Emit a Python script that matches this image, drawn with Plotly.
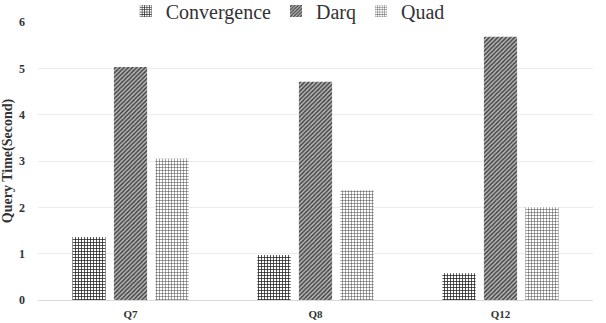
import plotly.graph_objects as go

categories = ["Q7", "Q8", "Q12"]
convergence = [1.36, 0.97, 0.58]
darq = [5.03, 4.71, 5.68]
quad = [3.05, 2.37, 2.0]
y_ticks = [0, 1, 2, 3, 4, 5, 6]

fig = go.Figure()
fig.add_trace(go.Bar(
    name="Convergence", x=categories, y=convergence,
    marker=dict(color="white", line=dict(width=0),
                pattern=dict(shape="+", size=3, solidity=0.45,
                             fgcolor="#222222", bgcolor="white", fillmode="replace")),
))
fig.add_trace(go.Bar(
    name="Darq", x=categories, y=darq,
    marker=dict(color="white", line=dict(width=0),
                pattern=dict(shape="/", size=3, solidity=0.5,
                             fgcolor="#444444", bgcolor="#bbbbbb", fillmode="replace")),
))
fig.add_trace(go.Bar(
    name="Quad", x=categories, y=quad,
    marker=dict(color="white", line=dict(width=0),
                pattern=dict(shape="+", size=3, solidity=0.3,
                             fgcolor="#444444", bgcolor="white", fillmode="replace")),
))

font_family = "Liberation Serif"
fig.update_layout(
    width=606, height=323,
    margin=dict(l=38, r=13, t=22, b=23, autoexpand=False),
    paper_bgcolor="white", plot_bgcolor="white",
    barmode="group", bargap=0.327, bargroupgap=0.2,
    font=dict(family=font_family, color="#333333"),
    showlegend=True,
    legend=dict(orientation="h", x=0.45, xanchor="center", y=1.04, yanchor="middle",
                font=dict(family=font_family, size=20, color="#333333"),
                itemwidth=30, tracegroupgap=0, bgcolor="rgba(0,0,0,0)"),
    xaxis=dict(showgrid=False, showline=True, linecolor="#d9d9d9", linewidth=1,
               ticks="", ticklabelstandoff=4,
               tickfont=dict(family=font_family, size=11, color="#333333", weight="bold")),
    yaxis=dict(range=[0, 6], tickvals=y_ticks, showgrid=True, gridcolor="#ececec",
               zeroline=False, showline=False, ticks="", ticklabelstandoff=12,
               tickfont=dict(family=font_family, size=12, color="#333333", weight="bold"),
               title=dict(text="Query Time(Second)", standoff=4,
                          font=dict(family=font_family, size=14, color="#333333", weight="bold"))),
)

fig.write_html("out.html")
